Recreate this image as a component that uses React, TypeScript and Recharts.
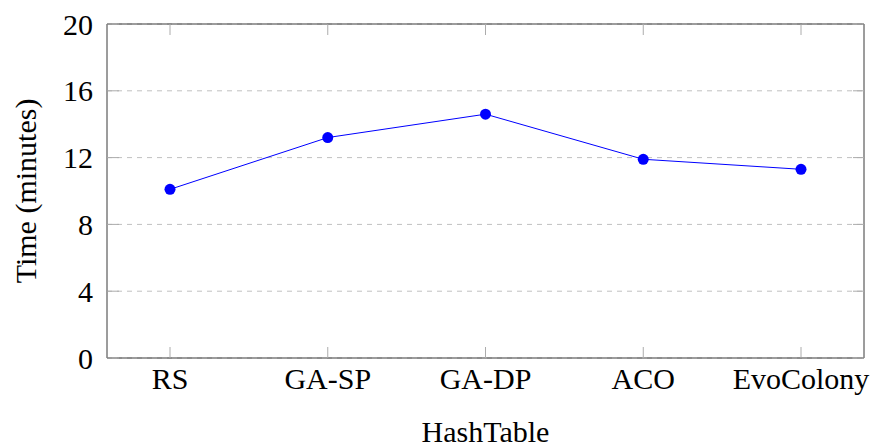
import React from 'react';
import { LineChart, Line, XAxis, YAxis, CartesianGrid } from 'recharts';

// HashTable run times per method (minutes)
const methods = ['RS', 'GA-SP', 'GA-DP', 'ACO', 'EvoColony'];
const times = [10.1, 13.2, 14.6, 11.9, 11.3];
const yTicks = [0, 4, 8, 12, 16, 20];

const data = methods.map((name, i) => ({ name, time: times[i] }));

const FONT = "'Liberation Serif', 'Times New Roman', serif";
const frame = '#3a3a3a';
const tickGray = '#acacac';
const blue = '#0000ff';
const blank = () => '';

export default function App() {
  const tickStyle = { fontFamily: FONT, fontSize: 30, fill: '#000' };
  return (
    <div style={{ position: 'absolute', left: 0, top: 0, background: '#fff', fontFamily: FONT }}>
      <LineChart width={876} height={447} data={data} margin={{ top: 23, right: 0, bottom: 0, left: 0 }}>
        <CartesianGrid vertical={false} stroke="#c0c0c0" strokeDasharray="5 5" />
        <XAxis
          dataKey="name"
          height={89}
          padding={{ left: 63, right: 63 }}
          axisLine={{ stroke: frame }}
          tickLine={{ stroke: tickGray }}
          tickSize={-11}
          tickMargin={21}
          tick={tickStyle}
          interval={0}
          label={{ value: 'HashTable', position: 'insideBottom', offset: 5, style: { ...tickStyle, textAnchor: 'middle' } }}
        />
        <XAxis
          xAxisId="top"
          orientation="top"
          dataKey="name"
          height={1}
          padding={{ left: 63, right: 63 }}
          axisLine={{ stroke: frame }}
          tickLine={{ stroke: tickGray }}
          tickSize={-11}
          tickFormatter={blank}
          interval={0}
        />
        <YAxis
          width={107}
          domain={[0, 20]}
          ticks={yTicks}
          axisLine={{ stroke: frame }}
          tickLine={{ stroke: tickGray }}
          tickSize={-12}
          tickMargin={26}
          tick={tickStyle}
          label={{ value: 'Time (minutes)', angle: -90, position: 'insideLeft', offset: 25, style: { ...tickStyle, textAnchor: 'middle' } }}
        />
        <YAxis
          yAxisId="right"
          orientation="right"
          width={12}
          domain={[0, 20]}
          ticks={yTicks}
          axisLine={{ stroke: frame }}
          tickLine={{ stroke: tickGray }}
          tickSize={-11}
          tickFormatter={blank}
        />
        <Line
          xAxisId="top"
          yAxisId="right"
          dataKey="time"
          stroke="none"
          dot={false}
          activeDot={false}
          isAnimationActive={false}
        />
        <Line
          dataKey="time"
          type="linear"
          stroke={blue}
          strokeWidth={1}
          dot={{ r: 5.5, fill: blue, stroke: 'none' }}
          activeDot={false}
          isAnimationActive={false}
        />
      </LineChart>
    </div>
  );
}
